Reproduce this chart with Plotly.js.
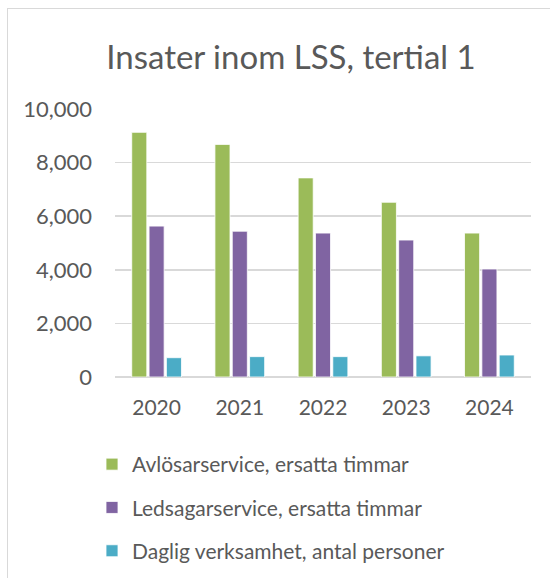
<!DOCTYPE html>
<html>
<head>
<meta charset="utf-8">
<script src="https://cdn.plot.ly/plotly-3.0.1.min.js"></script>
<style>
  html, body { margin: 0; padding: 0; background: #fff; }
  #wrap { position: relative; width: 550px; height: 578px; overflow: hidden; }
  #chart { position: absolute; left: 0; top: 0; width: 550px; height: 578px; }
  #frame { position: absolute; left: 7px; top: 8px; width: 560px; height: 600px;
           border: 1.5px solid #d9d9d9; box-sizing: border-box; pointer-events: none; }
</style>
</head>
<body>
<div id="wrap">
  <div id="chart"></div>
  <div id="frame"></div>
</div>
<script>
const years = ['2020', '2021', '2022', '2023', '2024'];
const avlosarservice = [9130, 8680, 7430, 6520, 5370];
const ledsagarservice = [5630, 5440, 5370, 5110, 4030];
const dagligVerksamhet = [720, 760, 760, 790, 820];
const seriesNames = [
  'Avlösarservice, ersatta timmar',
  'Ledsagarservice, ersatta timmar',
  'Daglig verksamhet, antal personer'
];
const colors = ['#9bbb59', '#8064a2', '#4bacc6'];
const tickVals = [0, 2000, 4000, 6000, 8000, 10000];

const series = [avlosarservice, ledsagarservice, dagligVerksamhet];
const traces = series.map((vals, i) => ({
  type: 'bar',
  x: years,
  y: vals,
  name: seriesNames[i],
  legendgroup: 'g' + i,
  marker: { color: colors[i], line: { color: '#ffffff', width: 0.8 } },
  hoverinfo: 'skip'
}));

const font = "Lato, 'Open Sans', sans-serif";
const layout = {
  width: 550,
  height: 578,
  margin: { l: 115, r: 19, t: 109, b: 201, autoexpand: false },
  paper_bgcolor: '#ffffff',
  plot_bgcolor: '#ffffff',
  font: { family: font, color: '#595959', size: 21 },
  title: {
    text: 'Insater inom LSS, tertial 1',
    font: { family: font, size: 33, color: '#595959' },
    x: 291 / 550, xanchor: 'center', xref: 'container',
    y: 1 - 57 / 578, yanchor: 'middle', yref: 'container'
  },
  barmode: 'group',
  bargap: 0.375,
  bargroupgap: 0.13,
  xaxis: {
    type: 'category',
    showgrid: false,
    showline: false,
    ticks: '',
    tickfont: { family: font, size: 21, color: '#595959' },
    ticklabelstandoff: 16
  },
  yaxis: {
    range: [0, 10000],
    tickvals: tickVals,
    tickformat: ',d',
    showgrid: true,
    gridcolor: '#d9d9d9',
    gridwidth: 1.5,
    zeroline: true,
    zerolinecolor: '#d9d9d9',
    zerolinewidth: 1.5,
    showline: false,
    ticks: '',
    tickfont: { family: font, size: 22, color: '#595959' },
    ticklabelstandoff: 22
  },
  showlegend: true,
  legend: {
    orientation: 'v',
    x: (92 - 115) / 416,
    xanchor: 'left',
    y: (377 - 444) / 268,
    yanchor: 'top',
    traceorder: 'grouped',
    tracegroupgap: 13,
    font: { family: font, size: 21, color: '#595959' },
    bgcolor: 'rgba(0,0,0,0)'
  }
};

Plotly.newPlot('chart', traces, layout, { displayModeBar: false, staticPlot: true });
</script>
</body>
</html>
